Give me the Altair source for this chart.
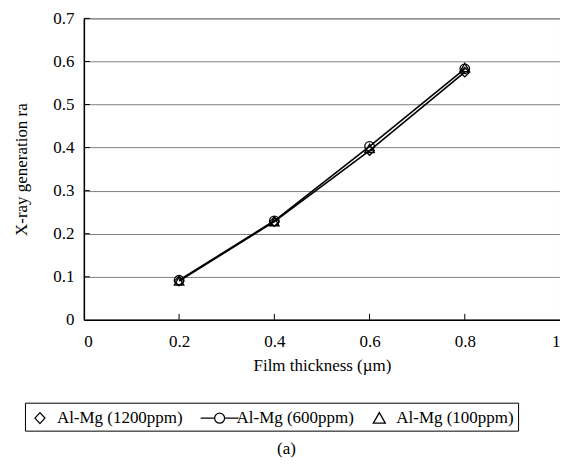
import altair as alt
import pandas as pd

thickness = [0.2, 0.4, 0.6, 0.8]
series_names = ["Al-Mg (1200ppm)", "Al-Mg (600ppm)", "Al-Mg (100ppm)"]
ratio_1200 = [0.090, 0.228, 0.393, 0.575]
ratio_600 = [0.092, 0.230, 0.403, 0.583]
ratio_100 = [0.090, 0.228, 0.398, 0.586]
x_ticks = [0, 0.2, 0.4, 0.6, 0.8, 1]
y_ticks = [0, 0.1, 0.2, 0.3, 0.4, 0.5, 0.6, 0.7]

rows = []
for name, vals in zip(series_names, [ratio_1200, ratio_600, ratio_100]):
    for t, v in zip(thickness, vals):
        rows.append({"series": name, "t": t, "r": v})
df = pd.DataFrame(rows)
line_df = df[df["series"] != "Al-Mg (100ppm)"]

TOP = 10
W, H = 477, 312 - TOP
FONT = "Liberation Serif"
FS = 17

xs = alt.Scale(domain=[0, 1], nice=False)
ys = alt.Scale(domain=[0, 0.7], nice=False)

diamond = "M-0.5,0L0,-0.55L0.5,0L0,0.55Z"
circ_line = "M-1.9,0H-0.5M0.5,0H1.9M0.5,0A0.5,0.5 0 1,1 -0.5,0A0.5,0.5 0 1,1 0.5,0Z"
tri = "M0,-0.55L0.6,0.5L-0.6,0.5Z"

lines = alt.Chart(line_df).mark_line(color="black", strokeWidth=1.6).encode(
    x=alt.X("t:Q", scale=xs,
            axis=alt.Axis(values=x_ticks, title="Film thickness (\u00b5m)", grid=False,
                          tickSize=0, labelPadding=14, titlePadding=8, format="~g",
                          domainColor="black", domainWidth=1.5)),
    y=alt.Y("r:Q", scale=ys,
            axis=alt.Axis(values=y_ticks, title="X-ray generation ra", grid=True,
                          gridColor="#808080", gridWidth=1, tickSize=0, labelPadding=10,
                          titlePadding=22, format="~g", domainColor="black", domainWidth=1.5)),
    detail="series:N",
)

points = alt.Chart(df).mark_point(filled=False, color="black", strokeWidth=1.3, size=90, opacity=1).encode(
    x=alt.X("t:Q", scale=xs),
    y=alt.Y("r:Q", scale=ys),
    shape=alt.Shape("series:N",
                    scale=alt.Scale(domain=series_names, range=["diamond", "circle", "triangle-up"]),
                    legend=None),
)

legend_layer = alt.Chart(df).mark_point(filled=False, color="black", strokeWidth=1.3, opacity=0).encode(
    x=alt.X("t:Q", scale=xs),
    y=alt.Y("r:Q", scale=ys),
    shape=alt.Shape("series:N",
                    scale=alt.Scale(domain=series_names, range=[diamond, circ_line, tri]),
                    legend=alt.Legend(orient="none", legendX=-59, legendY=403 - 8 - TOP,
                                      direction="horizontal",
                                      title=None, strokeColor="black", padding=4,
                                      labelFont=FONT, labelFontSize=FS, labelColor="black",
                                      symbolSize=400, symbolStrokeColor="black", symbolStrokeWidth=1.3,
                                      symbolFillColor="transparent", symbolOpacity=1,
                                      columnPadding=14, labelOffset=6)),
)

xtick_df = pd.DataFrame({"v": x_ticks[1:-1]})
xticks = alt.Chart(xtick_df).mark_rule(color="black", strokeWidth=1).encode(
    x=alt.X("v:Q", scale=xs), y=alt.value(H), y2=alt.value(H - 6))
ytick_df = pd.DataFrame({"v": y_ticks[1:]})
yticks = alt.Chart(ytick_df).mark_rule(color="black", strokeWidth=1).encode(
    y=alt.Y("v:Q", scale=ys), x=alt.value(0), x2=alt.value(6))

caption = alt.Chart(pd.DataFrame({"c": ["(a)"]})).mark_text(
    font=FONT, fontSize=FS, color="black", baseline="middle").encode(
    text="c:N", x=alt.value(203), y=alt.value(449 - 8 - TOP))

chart = alt.layer(lines, xticks, yticks, points, legend_layer, caption).resolve_scale(
    shape="independent"
).properties(
    width=W, height=H,
    background="white",
    autosize=alt.AutoSizeParams(type="none"),
    padding={"left": 76, "top": TOP, "right": 0, "bottom": 451 - TOP - H},
).configure_view(stroke="#808080", strokeWidth=1).configure_axis(
    labelFont=FONT, labelFontSize=FS, labelColor="black",
    titleFont=FONT, titleFontSize=FS, titleColor="black", titleFontWeight="normal",
)

chart.save("out.html", embed_options={"renderer": "svg", "actions": False})
